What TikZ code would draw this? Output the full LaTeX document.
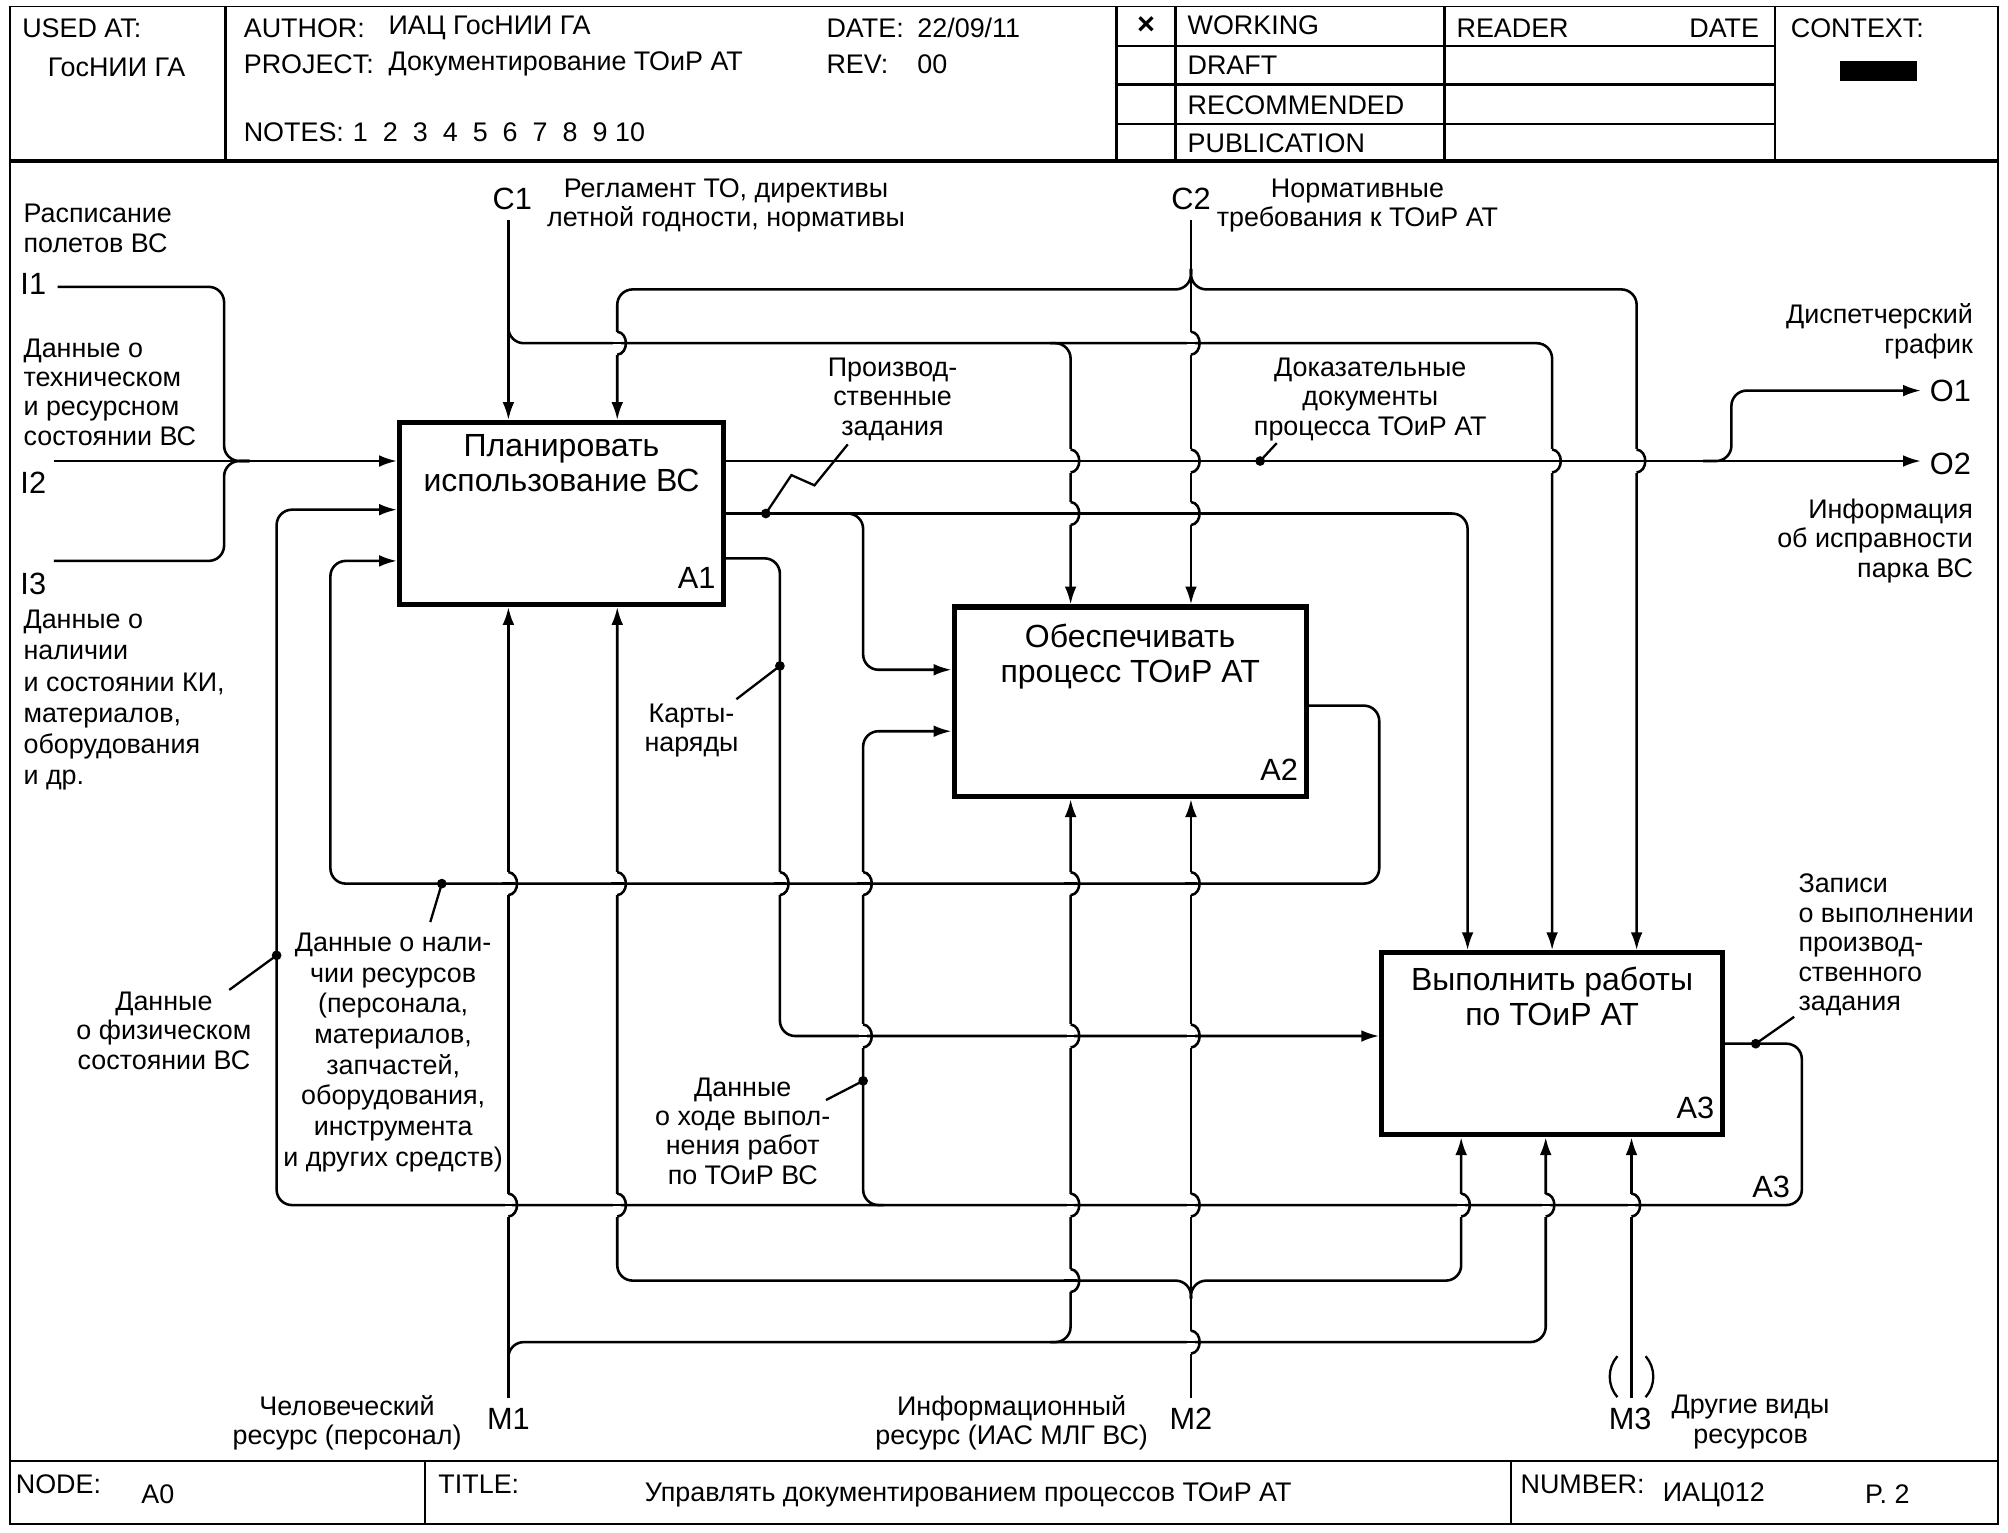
\documentclass[tikz,border=0pt]{standalone}
\usepackage{fontspec}
\setmainfont{Liberation Sans}
\usetikzlibrary{arrows.meta,positioning}

\definecolor{inkcolor}{gray}{0}
\def\W{1pt}   % connector width
\def\R{6pt}   % corner radius

% vertical line jumps over a horizontal one at (#1,#2)
\newcommand\hop[2]{%
  \fill[white] ({#1-3},{#2-9}) rectangle ({#1+3},{#2+9});
  \draw[line width=\W,inkcolor] ({#1-5},#2) -- ({#1+5},#2);
  \draw[line width=\W,inkcolor] (#1,{#2-9}) .. controls ({#1+9},{#2-8}) and ({#1+9},{#2+8}) .. (#1,{#2+9});
}

\begin{document}
\begin{tikzpicture}[x=0.5pt,y=-0.5pt,
  wire/.style={draw=inkcolor,line width=\W,rounded corners=\R},
  arr/.style={wire,-{Latex[length=7pt,width=4.6pt]}},
  leader/.style={draw=inkcolor,line width=0.9pt},
  fbox/.style={draw=inkcolor,line width=2pt,anchor=north west,inner sep=0pt},
  boxlbl/.style={font=\fontsize{12.5}{13.5}\selectfont,align=center,anchor=north,inner sep=0pt},
  boxnum/.style={font=\fontsize{12}{13}\selectfont,anchor=south east,inner sep=0pt},
  lbl/.style={font=\fontsize{10.5}{11.5}\selectfont,align=center,anchor=north,inner sep=0pt},
  icom/.style={font=\fontsize{12}{13}\selectfont,inner sep=0pt},
  hdr/.style={font=\fontsize{10.5}{12}\selectfont,anchor=west,inner sep=0pt},
  dot/.style={circle,fill=inkcolor,inner sep=0pt,minimum size=3.8pt}]
\useasboundingbox (0,0) rectangle (1568,1197);

% form frame
\draw[inkcolor,line width=0.6pt] (8,5) rectangle (1560,1190);
\draw[inkcolor,line width=1.6pt] (8,126) -- (1560,126);
\foreach \x in {176,872,918,1128,1386}
  \draw[inkcolor,line width=1pt] (\x,5) -- (\x,126);
\foreach \y in {36,66,97}
  \draw[inkcolor,line width=1pt] (872,\y) -- (1386,\y);
\draw[inkcolor,line width=1pt] (8,1141) -- (1560,1141);
\foreach \x in {332,1180}
  \draw[inkcolor,line width=1pt] (\x,1141) -- (\x,1190);

% header
\node[hdr] (usedat) at (17,22) {USED AT:};
\node[hdr,anchor=center] (usedorg) at (91,53) {ГосНИИ ГА};
\node[hdr] (author) at (190,22) {AUTHOR:};
\node[hdr] (authorv) at (303,22) {ИАЦ ГосНИИ ГА};
\node[hdr] (project) at (190,50) {PROJECT:};
\node[hdr] (projectv) at (303,50) {Документирование ТОиР АТ};
\node[hdr] (notes) at (190,103) {NOTES:};
\foreach \n in {1,...,10}
  \node[hdr,anchor=center] (note\n) at ({258+23.4*\n},103) {\n};
\node[hdr] (date) at (645,22) {DATE:};
\node[hdr] (datev) at (716,22) {22/09/11};
\node[hdr] (rev) at (645,50) {REV:};
\node[hdr] (revv) at (716,50) {00};
\node[hdr,anchor=center,font=\fontsize{12}{12}\bfseries] (mark) at (895,20) {×};
\node[hdr] (working) at (927,20) {WORKING};
\node[hdr] (draft) at (927,51) {DRAFT};
\node[hdr] (recom) at (927,82) {RECOMMENDED};
\node[hdr] (publ) at (927,112) {PUBLICATION};
\node[hdr] (reader) at (1137,22) {READER};
\node[hdr,anchor=east] (rdate) at (1374,22) {DATE};
\node[hdr] (context) at (1398,22) {CONTEXT:};
\fill[inkcolor] (1437,48) rectangle (1497,63);

% footer
\node[hdr] (node) at (12,1159) {NODE:};
\node[hdr] (nodev) at (110,1167) {A0};
\node[hdr] (title) at (342,1159) {TITLE:};
\node[hdr,anchor=center] (titlev) at (756,1167) {Управлять документированием процессов ТОиР АТ};
\node[hdr] (number) at (1187,1159) {NUMBER:};
\node[hdr] (numberv) at (1298,1167) {ИАЦ012};
\node[hdr] (page) at (1456,1167) {P. 2};

% functions
\node[fbox,minimum width=126.5pt,minimum height=71pt] (a1) at (310,328) {};
\node[fbox,minimum width=137.5pt,minimum height=74pt] (a2) at (743,472) {};
\node[fbox,minimum width=133pt,minimum height=71pt] (a3) at (1077,742) {};
\node[boxlbl] (a1t) at ([yshift=-5.5pt]a1.north) {Планировать\\использование ВС};
\node[boxlbl] (a2t) at ([yshift=-7.5pt]a2.north) {Обеспечивать\\процесс ТОиР АТ};
\node[boxlbl] (a3t) at ([yshift=-6.5pt]a3.north) {Выполнить работы\\по ТОиР АТ};
\node[boxnum] (a1n) at ([xshift=-4pt,yshift=7pt]a1.south east) {A1};
\node[boxnum] (a2n) at ([xshift=-4pt,yshift=7pt]a2.south east) {A2};
\node[boxnum] (a3n) at ([xshift=-4pt,yshift=7pt]a3.south east) {A3};

% boundary ends
\coordinate (i1) at (45,224);
\coordinate (i2) at (42,360);
\coordinate (i3) at (42,438);
\coordinate (c1) at (397,172);
\coordinate (c2) at (930,172);
\coordinate (o1) at (1500,305);
\coordinate (o2) at (1500,360);
\coordinate (m1) at (397,1092);
\coordinate (m2) at (930,1092);
\coordinate (m3) at (1274,1092);

\node[icom] (i1l) at (26,222) {I1};
\node[icom] (i2l) at (26,377) {I2};
\node[icom] (i3l) at (26,456) {I3};
\node[icom] (c1l) at (400,155) {C1};
\node[icom] (c2l) at (930,155) {C2};
\node[icom] (o1l) at (1523,305) {O1};
\node[icom] (o2l) at (1523,362) {O2};
\node[icom] (m1l) at (397,1108) {M1};
\node[icom] (m2l) at (930,1108) {M2};
\node[icom] (m3l) at (1273,1108) {M3};
\node[icom] (a3loop) at (1383,927) {A3};

% inputs
\draw[arr] (i2) -- (i2 -| a1.west);
\draw[wire] (i1) -- (175,224) -- (175,360) -- (195,360);
\draw[wire] (i3) -- (175,438) -- (175,360) -- (195,360);

% controls
\draw[arr] (c1) -- (c1 |- a1.north);
\draw[arr] (397,250) -- (397,268) -- (1212,268) -- (1212,268 |- a3.north);
\draw[arr] (820,268) -- (836,268) -- (836,268 |- a2.north);
\draw[arr] (c2) -- (c2 |- a2.north);
\draw[arr] (930,210) -- (930,226) -- (482,226) -- (482,226 |- a1.north);
\draw[arr] (930,210) -- (930,226) -- (1278,226) -- (1278,226 |- a3.north);

% outputs and feedback
\draw[arr] (a1.east |- o2) -- (o2);
\draw[arr] (1330,360) -- (1352,360) -- (1352,305) -- (o1);
\draw[arr] (a1.east |- 0,401) -- (1146,401) -- (1146,401 |- a3.north);
\draw[arr] (655,401) -- (674,401) -- (674,523) -- (674,523 -| a2.west);
\draw[arr] (a1.east |- 0,436) -- (609,436) -- (609,809) -- (609,809 -| a3.west);
\draw[arr] (a2.east |- 0,551) -- (1077,551) -- (1077,690) -- (258,690) -- (258,438) -- (258,438 -| a1.west);
\draw[arr] (a3.east |- 0,815) -- (1407,815) -- (1407,941) -- (216,941) -- (216,398) -- (216,398 -| a1.west);
\draw[arr] (690,941) -- (674,941) -- (674,571) -- (674,571 -| a2.west);

% mechanisms
\draw[arr] (m1) -- (m1 |- a1.south);
\draw[arr] (397,1062) -- (397,1048) -- (1207,1048) -- (1207,1048 |- a3.south);
\draw[arr] (820,1048) -- (836,1048) -- (836,1048 |- a2.south);
\draw[arr] (m2) -- (m2 |- a2.south);
\draw[arr] (930,1014) -- (930,1000) -- (482,1000) -- (482,1000 |- a1.south);
\draw[arr] (930,1014) -- (930,1000) -- (1141,1000) -- (1141,1000 |- a3.south);
\draw[arr] (m3) -- (m3 |- a3.south);
\draw[leader] (1263,1059) .. controls (1255,1068) and (1255,1082) .. (1263,1091);
\draw[leader] (1285,1059) .. controls (1293,1068) and (1293,1082) .. (1285,1091);

% crossings
\foreach \hx/\hy in {482/268,930/268,836/360,930/360,1212/360,1278/360,
    836/401,930/401,397/690,482/690,609/690,674/690,836/690,930/690,
    674/809,836/809,930/809,397/941,482/941,836/941,930/941,1141/941,
    1207/941,1274/941,836/1000,930/1048}
  {\hop{\hx}{\hy}}

% arrow labels
\node[lbl,anchor=north west,align=left] (sched) at (18,159) {Расписание\\полетов ВС};
\node[lbl,anchor=north west,align=left] (techd) at (18,264) {Данные о\\техническом\\и ресурсном\\состоянии ВС};
\node[lbl,anchor=north west,align=left,font=\fontsize{10.5}{12.2}\selectfont] (kid) at (18,476) {Данные о\\наличии\\и состоянии КИ,\\материалов,\\оборудования\\и др.};
\node[lbl] (c1txt) at (567,139) {Регламент ТО, директивы\\летной годности, нормативы};
\node[lbl] (c2txt) at (1060,139) {Нормативные\\требования к ТОиР АТ};
\node[lbl] (prodt) at (697,279) {Производ-\\ственные\\задания};
\node[lbl] (evidt) at (1070,279) {Доказательные\\документы\\процесса ТОиР АТ};
\node[lbl,anchor=north east,align=right] (dispt) at (1541,237) {Диспетчерский\\график};
\node[lbl,anchor=north east,align=right] (infot) at (1541,389) {Информация\\об исправности\\парка ВС};
\node[lbl] (cardt) at (540,549) {Карты-\\наряды};
\node[lbl,font=\fontsize{10.5}{12}\selectfont] (rest) at (307,728) {Данные о нали-\\чии ресурсов\\(персонала,\\материалов,\\запчастей,\\оборудования,\\инструмента\\и других средств)};
\node[lbl] (physt) at (128,774) {Данные\\о физическом\\состоянии ВС};
\node[lbl] (progt) at (580,841) {Данные\\о ходе выпол-\\нения работ\\по ТОиР ВС};
\node[lbl,anchor=north west,align=left] (rect) at (1404,682) {Записи\\о выполнении\\производ-\\ственного\\задания};
\node[lbl] (m1txt) at (271,1089) {Человеческий\\ресурс (персонал)};
\node[lbl] (m2txt) at (790,1089) {Информационный\\ресурс (ИАС МЛГ ВС)};
\node[lbl] (m3txt) at (1367,1089) {Другие виды\\ресурсов};

% label squiggles
\node[dot] (dphys) at (216,746) {};
\node[dot] (dres) at (345,690) {};
\node[dot] (dprog) at (674,844) {};
\node[dot] (dcard) at (609,520) {};
\node[dot] (dprod) at (598,401) {};
\node[dot] (devid) at (984,360) {};
\node[dot] (drec) at (1371,815) {};
\draw[leader] (dphys.center) -- (179,773);
\draw[leader] (dres.center) -- (336,720);
\draw[leader] (dprog.center) -- (645,859);
\draw[leader] (dcard.center) -- (575,546);
\draw[leader] (dprod.center) -- (618,371) -- (636,379) -- (662,347);
\draw[leader] (devid.center) -- (997,346);
\draw[leader] (drec.center) -- (1401,794);
\end{tikzpicture}
\end{document}
